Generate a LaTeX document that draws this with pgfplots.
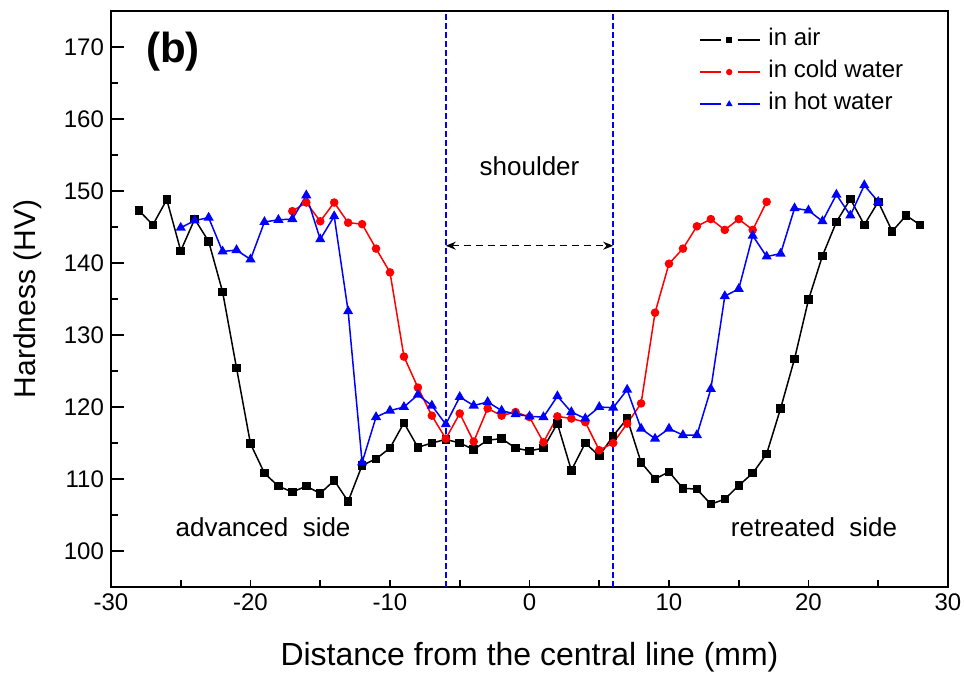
\documentclass[border=0pt]{standalone}
\usepackage{fontspec}
\setmainfont{Liberation Sans}
\usepackage{pgfplots}
\pgfplotsset{compat=1.18}
\usetikzlibrary{arrows.meta}

\newcommand{\fs}[1]{\fontsize{#1}{#1}\selectfont}

\begin{document}
\begin{tikzpicture}
\begin{axis}[
  scale only axis, width=418.5pt, height=288pt,
  xmin=-30, xmax=30, ymin=95, ymax=175,
  xtick={-30,-20,...,30}, minor xtick={-30,-25,...,30},
  ytick={100,110,...,170}, minor ytick={95,105,...,175},
  major x tick style={draw=none},
  tick align=inside, xtick pos=lower, ytick pos=left,
  major tick length=6.5pt, minor tick length=3.5pt,
  axis line style={line width=1pt},
  tick style={line width=0.8pt, black},
  /pgf/number format/assume math mode=true,
  ticklabel style={font=\fs{12}},
  xlabel={Distance from the central line (mm)},
  ylabel={Hardness (HV)},
  xlabel style={font=\fs{16}, at={(axis description cs:0.5,-0.1215)}, anchor=center},
  ylabel style={font=\fs{15}, at={(axis description cs:-0.0992,0.5)}, anchor=center},
  legend style={draw=none, fill=none, at={(axis description cs:0.702,0.978)}, anchor=north west,
    inner sep=0pt, row sep=0pt, /tikz/column sep=2.5pt, font=\fs{12},
    nodes={inner sep=1.5pt, text height=9.3pt, text depth=3.7pt}},
  legend cell align=left,
  legend image code/.code={
    \draw[#1,mark=none] (0pt,0pt) -- (10.5pt,0pt);
    \draw[#1,mark=none] (19pt,0pt) -- (30pt,0pt);
    \draw[#1,mark size=1.2pt] plot coordinates {(14.75pt,0pt)};
  },
  every axis plot/.append style={line width=0.75pt},
  clip=false,
]
% in air
\addplot[black, mark=square*, mark size=1.75pt] coordinates {
(-28,147.3)(-27,145.3)(-26,148.8)(-25,141.7)(-24,146.1)(-23,143.0)(-22,136.0)
(-21,125.4)(-20,114.9)(-19,110.8)(-18,109.0)(-17,108.2)(-16,109.0)(-15,108.0)
(-14,109.8)(-13,106.9)(-12,111.9)(-11,112.8)(-10,114.3)(-9,117.8)(-8,114.4)
(-7,115.0)(-6,115.5)(-5,115.0)(-4,114.1)(-3,115.4)(-2,115.6)(-1,114.3)
(0,113.9)(1,114.3)(2,117.7)(3,111.2)(4,115.0)(5,113.2)(6,116.0)(7,118.4)
(8,112.3)(9,110.0)(10,111.0)(11,108.7)(12,108.6)(13,106.5)(14,107.2)
(15,109.1)(16,110.8)(17,113.5)(18,119.8)(19,126.7)(20,134.9)(21,141.0)
(22,145.7)(23,148.9)(24,145.3)(25,148.5)(26,144.4)(27,146.6)(28,145.3)
};
% in cold water
\addplot[red, mark=*, mark size=1.75pt] coordinates {
(-17,147.2)(-16,148.4)(-15,145.8)(-14,148.4)(-13,145.6)(-12,145.4)(-11,142.0)
(-10,138.7)(-9,127.0)(-8,122.7)(-7,118.8)(-6,115.6)(-5,119.1)(-4,115.2)
(-3,119.8)(-2,118.8)(-1,119.3)(0,118.6)(1,115.1)(2,118.7)(3,118.4)(4,117.9)
(5,114.0)(6,115.0)(7,117.7)(8,120.5)(9,133.1)(10,139.9)(11,142.0)(12,145.1)
(13,146.1)(14,144.6)(15,146.1)(16,144.6)(17,148.5)
};
% in hot water
\addplot[blue, mark=triangle*, mark size=2.2pt] coordinates {
(-25,144.9)(-24,145.9)(-23,146.3)(-22,141.6)(-21,141.8)(-20,140.5)(-19,145.7)
(-18,146.0)(-17,146.1)(-16,149.4)(-15,143.3)(-14,146.5)(-13,133.3)(-12,112.3)
(-11,118.6)(-10,119.5)(-9,120.0)(-8,121.7)(-7,120.2)(-6,117.6)(-5,121.4)
(-4,120.2)(-3,120.7)(-2,119.5)(-1,119.0)(0,118.7)(1,118.6)(2,121.5)(3,119.3)
(4,118.4)(5,120.0)(6,119.9)(7,122.4)(8,117.0)(9,115.6)(10,117.0)(11,116.1)
(12,116.1)(13,122.5)(14,135.4)(15,136.4)(16,143.8)(17,140.9)(18,141.3)
(19,147.6)(20,147.3)(21,145.8)(22,149.5)(23,146.6)(24,150.8)(25,148.5)
};
\legend{in air, in cold water, in hot water}

\draw[blue, line width=0.8pt, dash pattern=on 3pt off 1.5pt] (axis cs:-6,95) -- (axis cs:-6,175);
\draw[blue, line width=0.8pt, dash pattern=on 3pt off 1.5pt] (axis cs:6,95) -- (axis cs:6,175);
\draw[black, line width=0.7pt, dash pattern=on 3.5pt off 2.5pt, {Stealth[length=5pt,width=4pt]}-{Stealth[length=5pt,width=4pt]}]
  (axis cs:-6,142.4) -- (axis cs:6,142.4);
\node[font=\fs{13}, anchor=base] at (axis cs:0,152.1) {shoulder};
\node[font=\fs{13}, anchor=base] at (axis cs:-19.1,102.0) {advanced\ \ side};
\node[font=\fs{13}, anchor=base] at (axis cs:20.4,102.0) {retreated\ \ side};
\node[font=\bfseries\fs{21}] at (axis cs:-25.56,169.3) {(b)};
\end{axis}
\pgfresetboundingbox
\path (-55.5pt,-44pt) rectangle (426.5pt,293.5pt);
\end{tikzpicture}
\end{document}
